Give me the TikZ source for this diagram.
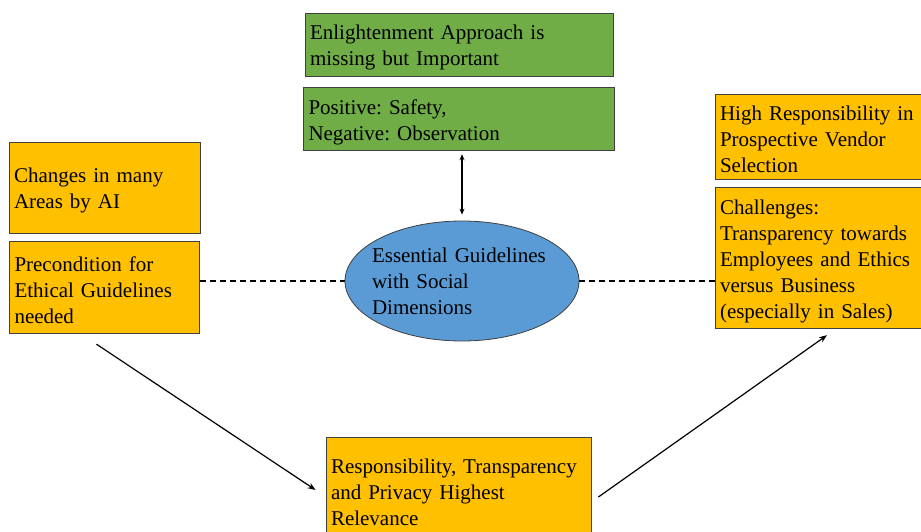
\documentclass[tikz,border=0pt]{standalone}
\usepackage{fontspec}
\setmainfont{Liberation Serif}
\usetikzlibrary{positioning, shapes.geometric, arrows.meta}
\definecolor{leafgreen}{HTML}{70AD47}
\definecolor{amber}{HTML}{FFC000}
\definecolor{skyblue}{HTML}{5B9BD5}
\frenchspacing

\begin{document}
\begin{tikzpicture}[x=1pt, y=-1pt, node distance=8pt,
        box/.style={draw=black!75, line width=0.8pt, rectangle, align=left,
            inner xsep=5pt, inner ysep=0pt, font=\fontsize{21}{26}\selectfont,
            execute at begin node={\rule{0pt}{20pt}}},
        greenbox/.style={box, fill=leafgreen},
        amberbox/.style={box, fill=amber},
        link/.style={-{Stealth[length=8pt, width=6pt]}, line width=1.2pt},
        twoway/.style={{Stealth[length=6pt, width=5pt]}-{Stealth[length=6pt, width=5pt]}, line width=1.2pt},
        dashlink/.style={dash pattern=on 6pt off 4pt, line width=1.2pt}]
    \useasboundingbox (0,0) rectangle (921,532);

    % top pair
    \node[greenbox, text width=298pt, minimum height=63pt] (enlight) at (459,44.5) {Enlightenment Approach is\\missing but Important};
    \node[greenbox, text width=301pt, minimum height=63pt, below=11pt of enlight] (pos neg) {Positive: Safety,\\Negative: Observation};

    % left pair
    \node[amberbox, text width=181pt, minimum height=91pt] (changes) at (104.5,187.5) {Changes in many\\Areas by AI};
    \node[amberbox, text width=180pt, minimum height=92pt, below=of changes] (precondition) {Precondition for\\Ethical Guidelines\\needed};

    % centre
    \node[ellipse, draw=black!75, line width=0.8pt, fill=skyblue, minimum width=234pt, minimum height=120pt,
        inner sep=-8pt, text width=180pt, align=left, font=\fontsize{21}{26}\selectfont] (guidelines) at (462,281)
        {Essential Guidelines\\with Social\\Dimensions};

    % right pair
    \node[amberbox, text width=196pt, minimum height=85pt] (vendor) at (818,136.5) {High Responsibility in\\Prospective Vendor\\Selection};
    \node[amberbox, text width=196pt, minimum height=141pt, below=of vendor] (challenges) {Challenges:\\Transparency towards\\Employees and Ethics\\versus Business\\(especially in Sales)};

    % bottom
    \node[amberbox, text width=255pt, minimum height=106pt] (relevance) at (458.5,490) {Responsibility, Transparency\\and Privacy Highest\\Relevance};

    % connectors
    \draw[twoway, shorten <=3pt, shorten >=6pt] (guidelines.north |- pos neg.south) -- (guidelines.north);
    \draw[dashlink] (precondition.east |- guidelines.west) -- (guidelines.west);
    \draw[dashlink] (guidelines.east) -- (challenges.west |- guidelines.east);
    \draw[link] ([xshift=-8pt, yshift=-10pt]precondition.south) -- ([xshift=-10pt]relevance.west);
    \draw[link] ([xshift=7pt, yshift=-7pt]relevance.east) -- ([xshift=9pt, yshift=-6pt]challenges.south);
\end{tikzpicture}
\end{document}
